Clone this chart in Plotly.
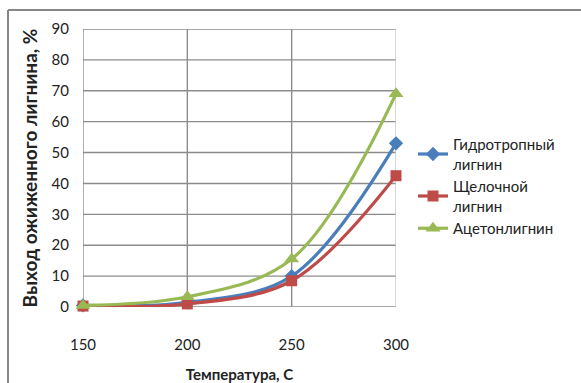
import plotly.graph_objects as go

temperature = [150, 200, 250, 300]
hydrotropic = [0.5, 1.5, 10.0, 53.0]
alkaline = [0.3, 1.0, 8.5, 42.5]
acetone = [0.5, 3.3, 15.5, 69.0]

series_names = ["Гидротропный<br>лигнин", "Щелочной<br>лигнин", "Ацетонлигнин"]
y_ticks = list(range(0, 91, 10))

W, H = 581, 383
L, R, T, B = 83, 185, 29, 76
pw, ph = W - L - R, H - T - B

def px_x(x):
    return (x - L) / pw

def px_y(y):
    return (H - B - y) / ph

fig = go.Figure()
styles = [
    ("#4A7EBB", "diamond", 11),
    ("#BE4B48", "square", 11),
    ("#98B954", "triangle-up", 13),
]
for name, vals, (col, sym, sz) in zip(series_names, [hydrotropic, alkaline, acetone], styles):
    fig.add_trace(go.Scatter(
        x=temperature, y=vals, name=name, mode="lines+markers",
        line=dict(color=col, width=3.2, shape="spline", smoothing=1.0),
        marker=dict(symbol=sym, size=sz, color=col),
        cliponaxis=False,
    ))

# gridlines: horizontal at each value tick, vertical at each temperature
for v in y_ticks:
    fig.add_shape(type="line", xref="x", yref="y", x0=temperature[0], x1=temperature[-1],
                  y0=v, y1=v, line=dict(color="#8C8C8C", width=1.4), layer="below")
for i, t in enumerate(temperature):
    fig.add_shape(type="line", xref="x", yref="y", x0=t, x1=t,
                  y0=y_ticks[0], y1=y_ticks[-1],
                  line=dict(color="#C8C8C8" if i == len(temperature) - 1 else "#8C8C8C", width=1.4),
                  layer="below")

font_family = "Lato, 'Open Sans', sans-serif"
fig.update_layout(
    width=W, height=H,
    margin=dict(l=L, r=R, t=T, b=B),
    paper_bgcolor="white", plot_bgcolor="white",
    font=dict(family=font_family, size=15, color="#222"),
    showlegend=True,
    legend=dict(
        x=px_x(413), y=px_y(128), xanchor="left", yanchor="top",
        font=dict(size=15, color="#222"), itemwidth=30,
        tracegroupgap=0, bgcolor="rgba(0,0,0,0)",
    ),
    xaxis=dict(
        range=[150, 300], tickvals=temperature, showgrid=False,
        showline=False, zeroline=False,
        ticks="outside", ticklen=24, tickcolor="rgba(0,0,0,0)",
        tickfont=dict(size=15), automargin=False,
        title=dict(text="<b>Температура, С</b>", font=dict(size=15), standoff=22),
    ),
    yaxis=dict(
        range=[0, 90], tickvals=y_ticks, showgrid=False,
        showline=False, zeroline=False,
        ticks="outside", ticklen=10, tickcolor="rgba(0,0,0,0)",
        tickfont=dict(size=15), automargin=False,
        title=dict(text="<b>Выход ожиженного лигнина, %</b>", font=dict(size=19), standoff=8),
    ),
)

# outer chart frame (top and left edges)
fig.add_shape(type="line", xref="paper", yref="paper",
              x0=px_x(8), x1=px_x(W + 5), y0=px_y(10), y1=px_y(10),
              line=dict(color="#868686", width=2))
fig.add_shape(type="line", xref="paper", yref="paper",
              x0=px_x(8), x1=px_x(8), y0=px_y(10), y1=px_y(H + 5),
              line=dict(color="#868686", width=2))

fig.write_html("out.html")
